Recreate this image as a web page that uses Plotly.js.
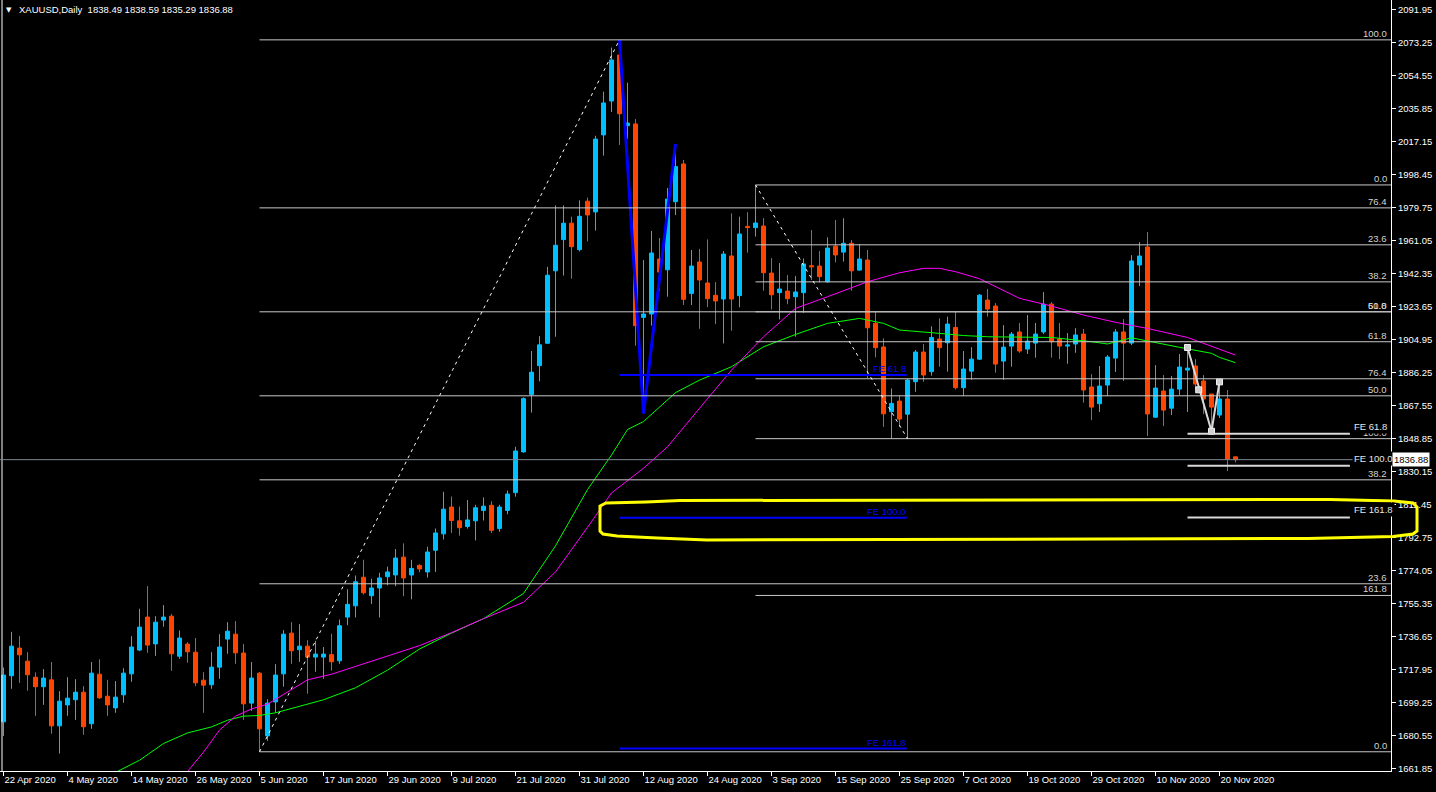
<!DOCTYPE html>
<html><head><meta charset="utf-8">
<script src="https://cdn.plot.ly/plotly-3.0.1.min.js"></script>
<style>html,body{margin:0;padding:0;background:#000;overflow:hidden}#chart{width:1436px;height:792px}</style>
</head><body><div id="chart"></div>
<script>
// ---------------- DATA ----------------
const symbolTitle = 'XAUUSD,Daily';
const firstDate = '2020-04-22';

const open = [
1688.2,1714.3,1730.0,1722.6,1713.5,1708.1,1712.0,1685.9,1697.8,1700.7,
1705.0,1687.1,1715.2,1702.7,1696.1,1703.5,1715.4,1728.9,1747.6,1732.4,
1745.9,1748.1,1725.4,1732.3,1727.7,1711.8,1709.2,1719.2,1735.1,1737.9,
1727.2,1698.8,1715.8,1680.2,1699.5,1715.4,1738.5,1729.1,1731.1,1724.9,
1724.9,1726.3,1722.8,1747.6,1754.0,1770.2,1759.7,1764.1,1770.5,1771.5,
1781.6,1771.5,1776.9,1773.2,1785.5,1794.8,1810.0,1802.2,1799.0,1802.2,
1808.1,1811.0,1797.8,1808.1,1818.2,1841.3,1873.9,1890.2,1902.9,1944.0,
1961.7,1971.0,1956.0,1983.5,1977.4,2021.1,2040.3,2066.4,2026.3,2027.3,
1917.6,1919.5,1950.7,1944.6,1983.2,2004.6,1931.2,1949.0,1937.1,1930.1,
1928.0,1952.4,1929.9,1969.2,1968.5,1969.4,1942.7,1931.6,1932.5,1929.3,
1931.6,1946.9,1946.7,1937.8,1958.0,1954.6,1959.6,1944.4,1950.1,1914.2,
1900.8,1864.1,1870.1,1862.7,1881.1,1897.9,1886.8,1905.3,1903.2,1911.9,
1877.7,1887.1,1893.9,1927.4,1924.0,1892.8,1901.3,1909.3,1899.6,1903.0,
1909.3,1925.1,1905.3,1901.3,1902.5,1908.1,1878.1,1868.6,1879.2,1894.5,
1909.3,1903.0,1947.3,1957.5,1861.0,1875.8,1866.1,1876.9,1887.7,1890.0,
1881.5,1874.1,1862.2,1871.3,1838.49];
const high = [
1719.0,1739.2,1736.8,1727.7,1716.2,1718.1,1722.1,1705.6,1713.5,1712.4,
1708.4,1722.1,1723.7,1712.0,1711.3,1718.6,1736.8,1752.3,1765.2,1748.1,
1754.4,1749.3,1740.0,1733.4,1735.7,1716.4,1727.7,1737.9,1744.7,1745.3,
1732.3,1722.1,1716.4,1701.0,1720.9,1740.2,1744.7,1743.6,1734.5,1734.1,
1730.6,1738.1,1746.2,1763.4,1771.2,1780.1,1769.3,1772.7,1776.2,1786.2,
1789.4,1780.1,1777.6,1787.5,1797.8,1818.7,1816.0,1810.3,1814.0,1811.3,
1815.5,1813.3,1811.3,1819.4,1844.2,1872.2,1898.5,1906.9,1946.2,1981.1,
1981.1,1974.7,1984.0,1985.5,2020.6,2045.6,2070.6,2075.0,2050.7,2030.1,
1950.1,1966.6,1962.6,1991.0,2015.9,2006.9,1955.8,1956.4,1961.8,1937.6,
1955.2,1976.6,1974.7,1977.2,1992.7,1973.9,1951.2,1948.4,1941.6,1941.0,
1951.0,1967.1,1955.2,1963.0,1972.8,1973.8,1961.5,1959.2,1955.8,1920.6,
1905.7,1877.3,1873.0,1882.6,1899.1,1902.5,1912.5,1917.0,1918.0,1920.8,
1898.5,1900.7,1930.8,1933.7,1925.7,1913.2,1909.3,1914.4,1918.9,1914.4,
1932.0,1926.3,1914.4,1908.7,1911.5,1911.0,1885.4,1890.0,1896.2,1911.0,
1916.6,1952.9,1960.3,1966.0,1890.5,1884.9,1884.3,1896.8,1900.2,1893.9,
1884.9,1874.1,1879.8,1876.4,1838.59];
const low = [
1680.2,1706.9,1710.3,1705.8,1691.6,1697.8,1681.4,1670.2,1691.6,1689.3,
1680.8,1684.2,1701.2,1691.6,1693.3,1699.0,1710.9,1728.3,1727.3,1725.6,
1742.1,1717.1,1723.9,1721.7,1708.4,1693.3,1706.9,1712.6,1726.8,1721.1,
1689.3,1694.4,1671.2,1677.4,1693.3,1708.1,1721.1,1722.2,1704.1,1716.6,
1712.6,1717.2,1721.1,1743.0,1747.4,1760.4,1755.0,1747.4,1765.6,1765.1,
1759.4,1757.7,1773.0,1770.0,1773.2,1791.6,1795.3,1793.8,1797.8,1791.1,
1802.4,1795.3,1796.0,1805.9,1815.9,1840.8,1863.6,1881.3,1902.7,1906.6,
1941.3,1939.5,1955.0,1960.7,1966.8,2009.3,2034.1,2015.4,2018.8,1901.5,
1863.1,1912.9,1932.5,1929.3,1975.6,1924.6,1924.6,1911.1,1923.4,1913.8,
1902.8,1910.0,1923.3,1954.3,1963.4,1932.7,1922.1,1916.4,1925.0,1906.6,
1920.2,1938.8,1937.4,1937.3,1948.8,1949.2,1932.7,1944.0,1883.0,1894.9,
1855.5,1848.8,1855.5,1848.8,1875.4,1881.1,1884.5,1889.6,1886.8,1876.7,
1873.0,1882.2,1893.4,1918.0,1886.2,1882.2,1889.6,1897.5,1896.8,1894.7,
1908.1,1894.7,1893.9,1891.3,1897.5,1869.2,1859.3,1863.9,1873.0,1886.6,
1881.5,1901.9,1935.3,1850.3,1860.5,1855.9,1862.2,1873.5,1863.9,1876.4,
1862.8,1852.5,1860.5,1830.4,1835.29];
const close = [
1714.7,1731.1,1726.2,1714.9,1708.1,1713.0,1685.9,1699.9,1701.6,1705.0,
1685.4,1715.8,1701.8,1697.8,1702.2,1715.8,1730.6,1741.9,1731.7,1744.7,
1747.6,1726.8,1735.7,1727.9,1710.3,1709.0,1719.2,1730.6,1739.6,1727.3,
1698.4,1713.0,1684.2,1698.8,1714.7,1737.9,1728.5,1731.1,1724.9,1726.6,
1726.6,1722.3,1742.7,1754.8,1767.6,1761.4,1764.1,1769.8,1773.2,1781.1,
1769.8,1775.2,1774.9,1784.5,1795.3,1808.8,1802.4,1798.3,1802.7,1809.6,
1810.5,1796.8,1810.0,1817.4,1841.8,1871.5,1886.5,1902.0,1941.5,1958.5,
1971.0,1957.7,1974.9,1975.7,2018.7,2039.2,2063.6,2033.1,2027.8,1912.9,
1919.5,1954.1,1943.3,1984.7,2003.1,1927.8,1946.7,1938.8,1928.2,1926.9,
1953.5,1928.0,1964.9,1968.5,1971.1,1942.9,1930.4,1933.7,1928.2,1932.0,
1947.9,1946.3,1940.7,1956.9,1953.0,1959.6,1944.0,1950.7,1911.7,1900.4,
1862.9,1868.8,1859.9,1882.0,1897.9,1884.9,1906.2,1900.4,1913.8,1877.7,
1888.3,1893.9,1930.2,1922.3,1891.1,1900.7,1908.1,1898.5,1904.1,1908.1,
1925.1,1903.8,1901.3,1901.9,1907.6,1876.4,1866.7,1878.6,1895.1,1909.3,
1903.0,1949.6,1952.4,1862.8,1877.5,1865.0,1876.9,1889.4,1888.8,1879.8,
1871.3,1866.7,1871.3,1837.2,1836.88];

const xTickLabels = ['22 Apr 2020','4 May 2020','14 May 2020','26 May 2020','5 Jun 2020','17 Jun 2020',
  '29 Jun 2020','9 Jul 2020','21 Jul 2020','31 Jul 2020','12 Aug 2020','24 Aug 2020','3 Sep 2020',
  '15 Sep 2020','25 Sep 2020','7 Oct 2020','19 Oct 2020','29 Oct 2020','10 Nov 2020','20 Nov 2020'];
const yTickLabels = ['2091.95','2073.25','2054.55','2035.85','2017.15','1998.45','1979.75','1961.05',
  '1942.35','1923.65','1904.95','1886.25','1867.55','1848.85','1830.15','1811.45','1792.75','1774.05',
  '1755.35','1736.65','1717.95','1699.25','1680.55','1661.85'];

// moving averages (bar number, price)
const greenBar = [14,17,20,23,26,28,30,32,34,37,40,44,48,52,56,60,65,69,73,76,78,80,84,87,91,95,99,103,107,110,112,116,120,123,127,131,136,138,141,144,147,151,152,154];
const greenVal = [1659.5,1666.4,1675.9,1681.9,1685.3,1689.1,1691.4,1691.8,1693.3,1697.1,1700.7,1707.5,1717.5,1729.5,1738.5,1746.7,1761.0,1788.0,1819.9,1839.5,1854.0,1858.5,1874.9,1882.0,1889.6,1900.9,1907.9,1914.2,1917.0,1914.2,1910.4,1908.9,1907.3,1906.6,1906.2,1906.2,1903.8,1902.5,1906.0,1903.2,1900.6,1897.2,1894.9,1891.9];
const magentaBar = [23,25,27,29,31,33,36,38,41,44,48,52,56,60,65,69,73,76,80,83,87,91,95,99,103,108,112,115,117,119,122,127,131,135,139,143,148,151,154];
const magentaVal = [1660.0,1671.0,1683.5,1691.4,1695.5,1698.2,1706.5,1712.0,1715.2,1719.5,1725.3,1731.4,1738.8,1746.7,1756.0,1773.2,1798.5,1818.0,1832.0,1844.2,1866.0,1887.7,1906.6,1922.7,1929.3,1937.8,1942.9,1945.4,1945.4,1943.5,1939.5,1928.4,1924.0,1918.9,1914.8,1911.3,1906.2,1901.0,1896.2];

// drawing objects (anchored on bars)
const fibALevels = [0, 23.6, 38.2, 50, 61.8, 76.4, 100];      // Jun low -> Aug high
const fibAFrom = 32, fibATo = 77;
const fibBLevels = [0, 23.6, 38.2, 50, 61.8, 76.4, 100, 161.8]; // Sep high -> Sep low
const fibBFrom = 94, fibBTo = 113;
const feLevels = [61.8, 100, 161.8];
const feBlueBars = [77, 80, 84];
const feBlueEnd = 112.9;
const feWhiteBars = [148, 151, 152];
const feWhitePrices = [1900.5, 1853.0, 1881.0];
const feWhiteHandleBars = [148, 149.4, 151, 152];
const feWhiteHandlePrices = [1900.5, 1876.5, 1853.0, 1881.0];
const feWhiteEnd = 168.3;

// ---------------- BUILD ----------------
const FONT = '"Liberation Sans", Arial, sans-serif';
const FS = 9.5;
const PW = 1391, PH = 771;
const n = open.length;
const MON = ['Jan','Feb','Mar','Apr','May','Jun','Jul','Aug','Sep','Oct','Nov','Dec'];
const dateLabels = [];
(function(){ let d = new Date(firstDate + 'T00:00:00Z');
  while (dateLabels.length < n) { const wd = d.getUTCDay();
    if (wd !== 0 && wd !== 6) dateLabels.push(d.getUTCDate() + ' ' + MON[d.getUTCMonth()] + ' ' + d.getUTCFullYear());
    d.setUTCDate(d.getUTCDate() + 1); } })();
const bars = dateLabels.map((_, i) => i);
const xTickVals = xTickLabels.map(l => dateLabels.indexOf(l));
const yTickVals = yTickLabels.map(Number);
const last = n - 1;

const traces = [
  { type:'candlestick', x:bars, open, high, low, close, hoverinfo:'skip', whiskerwidth:0,
    increasing:{line:{color:'#00BFFF', width:1}, fillcolor:'#00BFFF'},
    decreasing:{line:{color:'#FF4500', width:1}, fillcolor:'#FF4500'} },
  { type:'scatter', mode:'lines', x:greenBar, y:greenVal, line:{color:'#00FF00', width:1}, hoverinfo:'skip' },
  { type:'scatter', mode:'lines', x:magentaBar, y:magentaVal, line:{color:'#FF00FF', width:1}, hoverinfo:'skip' },
  { type:'scatter', mode:'lines', x:feBlueBars, y:[high[77], low[80], high[84]], line:{color:'#0000FF', width:3}, hoverinfo:'skip' },
  { type:'scatter', mode:'lines', x:feWhiteBars, y:feWhitePrices, line:{color:'#d8d8d8', width:2}, hoverinfo:'skip' },
  { type:'scatter', mode:'markers', x:feWhiteHandleBars, y:feWhiteHandlePrices, hoverinfo:'skip',
    marker:{symbol:'square', size:6, color:'#cfcfcf', line:{color:'#f0f0f0', width:1}} }
];

const LINE = '#c8c8c8';
const LABEL = '#d4d4d4';
const shapes = [];
const annotations = [];
// left border
shapes.push({type:'line', xref:'paper', yref:'paper', x0:2/PW, x1:2/PW, y0:0, y1:1, line:{color:'#ffffff', width:1}});
// bid line
shapes.push({type:'line', xref:'paper', yref:'y', x0:0, x1:1, y0:close[last], y1:close[last], line:{color:'#7a8694', width:1}});

// fib A
const fAlo = low[fibAFrom], fAhi = high[fibATo];
fibALevels.forEach(l => { const p = fAlo + (fAhi - fAlo) * l / 100;
  shapes.push({type:'line', xref:'x', yref:'y', x0:fibAFrom, x1:400, y0:p, y1:p, line:{color:LINE, width:1}});
  annotations.push({xref:'paper', x:1388/PW, xanchor:'right', yref:'y', y:p, yanchor:'bottom', showarrow:false,
    text:l.toFixed(1), font:{family:FONT, size:FS, color:LABEL}, borderpad:0}); });
shapes.push({type:'line', xref:'x', yref:'y', x0:fibAFrom, y0:fAlo, x1:fibATo, y1:fAhi, line:{color:'#ffffff', width:1, dash:'3px,4px'}});

// fib B
const fBhi = high[fibBFrom], fBlo = low[fibBTo];
fibBLevels.forEach(l => { const p = fBhi - (fBhi - fBlo) * l / 100;
  shapes.push({type:'line', xref:'x', yref:'y', x0:fibBFrom, x1:400, y0:p, y1:p, line:{color:LINE, width:1}});
  annotations.push({xref:'paper', x:1388/PW, xanchor:'right', yref:'y', y:p, yanchor:'bottom', showarrow:false,
    text:l.toFixed(1), font:{family:FONT, size:FS, color:LABEL}, borderpad:0}); });
shapes.push({type:'line', xref:'x', yref:'y', x0:fibBFrom, y0:fBhi, x1:fibBTo, y1:fBlo, line:{color:'#ffffff', width:1, dash:'3px,4px'}});

// blue Fibonacci expansion
const bA = high[77], bB = low[80], bC = high[84];
feLevels.forEach(l => { const p = bC - (bA - bB) * l / 100;
  shapes.push({type:'line', xref:'x', yref:'y', x0:feBlueBars[0], x1:feBlueEnd, y0:p, y1:p, line:{color:'#0000FF', width:2}});
  annotations.push({xref:'x', x:feBlueEnd, xanchor:'right', yref:'y', y:p, yanchor:'bottom', showarrow:false,
    text:'FE ' + l.toFixed(1), font:{family:FONT, size:FS, color:'#0000FF'}, borderpad:0}); });

// white Fibonacci expansion
const wA = feWhitePrices[0], wB = feWhitePrices[1], wC = feWhitePrices[2];
feLevels.forEach(l => { const p = wC - (wA - wB) * l / 100;
  shapes.push({type:'line', xref:'x', yref:'y', x0:feWhiteBars[0], x1:feWhiteEnd, y0:p, y1:p, line:{color:'#d8d8d8', width:2}});
  annotations.push({xref:'x', x:feWhiteEnd + 0.2, xanchor:'left', yref:'y', y:p, yanchor:'bottom', showarrow:false,
    text:'FE ' + l.toFixed(1), bgcolor:'#000000', font:{family:FONT, size:FS, color:'#e6e6e6'}, borderpad:1}); });

// hand-drawn yellow box (pixel outline of the annotation)
const yellowPx = [[600,506],[606,503],[646,502],[680,500.5],[1330,499.5],[1394,501],[1413,503],[1417,507],[1417,531],
  [1413,534],[1393,536.5],[1308,538.5],[707,540],[657,538],[617,536],[603,534],[600,531]];
shapes.push({type:'path', xref:'paper', yref:'paper', layer:'above',
  path: 'M' + yellowPx.map(p => (p[0]/PW).toFixed(5) + ',' + (1 - p[1]/PH).toFixed(5)).join(' L') + ' Z',
  line:{color:'#FFFF00', width:3}});

// header
annotations.push({xref:'paper', yref:'paper', x:8.5/PW, y:1 - 10/PH, xanchor:'center', yanchor:'middle', showarrow:false,
  text:'▼', font:{family:'DejaVu Sans', size:7, color:'#ffffff'}});
annotations.push({xref:'paper', yref:'paper', x:17/PW, y:1 - 10/PH, xanchor:'left', yanchor:'middle', showarrow:false,
  text: symbolTitle + '  ' + [open[last], high[last], low[last], close[last]].map(v => v.toFixed(2)).join(' '),
  font:{family:FONT, size:FS, color:'#ffffff'}});
// last price box
annotations.push({xref:'paper', x:1, xshift:1, xanchor:'left', yref:'y', y:close[last], yanchor:'middle', showarrow:false,
  text:close[last].toFixed(2), bgcolor:'#ffffff', borderpad:1, font:{family:FONT, size:FS, color:'#000000'}});

const layout = {
  width:1436, height:792, margin:{l:0, r:45, t:0, b:21, pad:0},
  paper_bgcolor:'#000000', plot_bgcolor:'#000000', showlegend:false,
  boxgap:0.5, boxgroupgap:0, hovermode:false, dragmode:false,
  font:{family:FONT, size:FS, color:'#ffffff'},
  xaxis:{range:[-0.4375, 173.4375], showgrid:false, zeroline:false, showline:true, linecolor:'#ffffff', linewidth:1,
    ticks:'outside', ticklen:4, tickcolor:'#ffffff', tickvals:xTickVals, ticktext:xTickLabels,
    ticklabelposition:'outside right', tickfont:{family:FONT, size:FS, color:'#ffffff'},
    rangeslider:{visible:false}, fixedrange:true},
  yaxis:{range:[1660.3, 2097.6], side:'right', showgrid:false, zeroline:false, showline:true, linecolor:'#ffffff', linewidth:1,
    ticks:'outside', ticklen:4, tickcolor:'#ffffff', tickvals:yTickVals, ticktext:yTickLabels,
    tickfont:{family:FONT, size:FS, color:'#ffffff'}, fixedrange:true},
  shapes, annotations
};
Plotly.newPlot('chart', traces, layout, {staticPlot:true, displayModeBar:false});
</script>
</body></html>
